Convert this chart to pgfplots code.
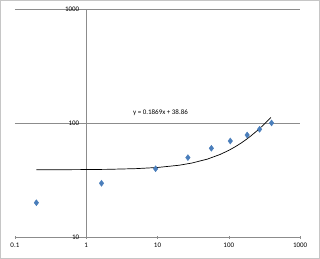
\documentclass[border=0pt]{standalone}
\usepackage{pgfplots}
\pgfplotsset{compat=1.18}
\usepackage{fontspec}
\setmainfont{Carlito}
\usetikzlibrary{calc}
\definecolor{ptblue}{HTML}{4A7EBB}
\definecolor{gridg}{HTML}{8C8C8C}
\begin{document}
\begin{tikzpicture}
\begin{axis}[
  scale only axis, width=285bp, height=228bp,
  xmode=log, ymode=log,
  xmin=0.1, xmax=1000, ymin=10, ymax=1000,
  axis x line=bottom, axis y line=middle,
  axis line style={gridg, -},
  hide obscured x ticks=false, hide obscured y ticks=false,
  xtick={0.1,1,10,100,1000}, xticklabels={0.1,1,10,100,1000},
  ytick={10,100,1000}, yticklabels={10,100,1000},
  xminorticks=false, yminorticks=false,
  ymajorgrids, major grid style={gridg, line width=0.6pt},
  tick style={gridg},
  major tick length=3bp,
  x tick label style={font=\fontsize{7}{8}\selectfont, yshift=-1bp},
  y tick label style={font=\fontsize{7}{8}\selectfont, xshift=-2bp},
  clip=false,
]
\addplot[only marks, mark=diamond*, mark size=3bp, color=ptblue] coordinates {
(0.2,20) (1.64,29.6) (9.4,39.7) (26.7,49.7) (57,60) (105,69.5) (181,78.5) (270,88) (398,100)
};
\addplot[black, line width=0.7pt] coordinates {
(0.2,38.90) (0.5,38.95) (1,39.05) (2,39.23) (5,39.79) (10,40.73) (20,42.60) (30,44.47)
(50,48.21) (75,52.88) (100,57.55) (125,62.22) (150,66.90) (175,71.57) (200,76.24)
(250,85.59) (300,94.93) (350,104.28) (390,111.75)
};
\node[font=\fontsize{7}{8}\selectfont] at (axis cs:11,123) {y = 0.1869x + 38.86};
\end{axis}
\draw[gray!45, line width=0.8pt] ($(current axis.south west)+(-14.5bp,-21.5bp)$) rectangle ($(current axis.north east)+(19.5bp,8.5bp)$);
\end{tikzpicture}
\end{document}
